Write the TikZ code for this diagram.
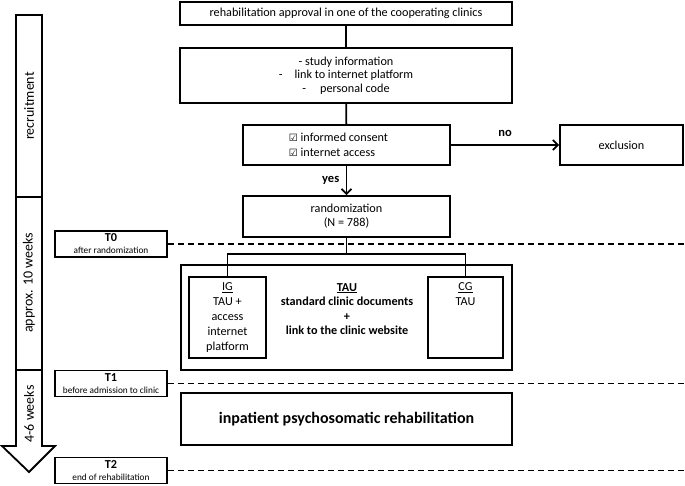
\documentclass[tikz,border=0pt]{standalone}
\usepackage{fontspec}
\setmainfont{Carlito}
\newfontfamily\symfont{DejaVu Sans}
\usetikzlibrary{arrows,arrows.meta,shapes,positioning}

\tikzset{
  box/.style={draw, line width=1.8pt, inner sep=0pt, align=center},
  tbox/.style={draw, line width=1.5pt, inner sep=0pt, minimum width=112, minimum height=26, align=center},
  timeline/.style={line width=1.3pt, dash pattern=on 6pt off 4pt},
  sidelabel/.style={rotate=90, font=\fontsize{14}{16}\selectfont},
}
\newcommand{\chk}{{\symfont\fontsize{10}{12}\selectfont\char"2611}}

\begin{document}
\begin{tikzpicture}[x=1pt,y=-1pt,shape=rectangle,>={Straight Barb[length=5pt,width=10pt]},
  font=\fontsize{12.2}{14}\selectfont]
\useasboundingbox (0,0) rectangle (685,486);

% left time bar
\draw[line width=1.8pt] (16,15) rectangle (42,197);
\draw[line width=1.8pt] (16,197) rectangle (42,370);
\draw[line width=1.8pt, line join=miter] (16,370) -- (16,446) -- (2,446) -- (29,472) -- (55,446)
  -- (42,446) -- (42,370);
\node (recruit) [sidelabel] at (29,106) {recruitment};
\node (tenweeks) [sidelabel] at (29,283) {approx. 10 weeks};
\node (sixweeks) [sidelabel] at (29,414) {4-6 weeks};

% time points
\node (tzero) [tbox] at (111,244) {\textbf{T0}\\[-2pt]{\fontsize{9.3}{10}\selectfont after randomization}};
\node (tone) [tbox] at (111,383.5) {\textbf{T1}\\[-2pt]{\fontsize{9.3}{10}\selectfont before admission to clinic}};
\node (ttwo) [tbox] at (111,470.5) {\textbf{T2}\\[-2pt]{\fontsize{9.3}{10}\selectfont end of rehabilitation}};
\coordinate (tzeroend) at (685,244);
\coordinate (toneend) at (685,383.5);
\coordinate (ttwoend) at (685,470.5);
\draw[timeline] (tzero) -- (tzeroend);
\draw[timeline] (tone) -- (toneend);
\draw[timeline] (ttwo) -- (ttwoend);

% flow
\node (approval) [box, minimum width=332, minimum height=23] at (346,13.5)
  {rehabilitation approval in one of the cooperating clinics};
\node (info) [box, minimum width=332, minimum height=55, font=\fontsize{12.2}{13.5}\selectfont] at (346,75.5)
  {- study information\\-\hspace{12pt}link to internet platform\\-\hspace{14pt}personal code};
\node (consent) [box, align=left, minimum width=207, minimum height=40, font=\fontsize{12.2}{15}\selectfont] at (346.5,145)
  {\chk\ informed consent\hspace*{16pt}\\\chk\ internet access};
\node (exclusion) [box, minimum width=123, minimum height=40] at (621.5,145) {exclusion};
\node (random) [box, minimum width=207, minimum height=41] at (346.5,216.5)
  {randomization\\(N = 788)};

\node (taubox) [box, minimum width=331, minimum height=105] at (346.5,317.5) {};
\node (ig) [box, minimum width=77, minimum height=81, font=\fontsize{12.2}{14.8}\selectfont] at (227.5,317.5)
  {\underline{IG}\\TAU +\\access\\internet\\platform};
\node (cg) [box, minimum width=75, minimum height=81] at (465.5,317.5) {};
\node (cgtext) [anchor=north, align=center, font=\fontsize{12.2}{14.8}\selectfont] at ([yshift=-3pt]cg.north) {\underline{CG}\\TAU};
\node (tautext) [align=center, font=\bfseries\fontsize{12.2}{14.5}\selectfont] at (347,309)
  {\underline{TAU}\\standard clinic documents\\+\\link to the clinic website};
\node (inpatient) [box, minimum width=331, minimum height=52, font=\bfseries\fontsize{16}{18}\selectfont]
  at (346.5,419) {inpatient psychosomatic rehabilitation};

\draw[line width=1.8pt] (approval) -- (info);
\draw[line width=1.8pt] (info) -- (consent);
\draw[->, line width=1.8pt] (consent) -- node [above=4pt, font=\bfseries\fontsize{12.5}{14}\selectfont] {no} (exclusion);
\draw[->, line width=1.8pt] (consent) -- node [left=3pt, font=\bfseries\fontsize{12.5}{14}\selectfont] {yes} (random);
\draw[line width=1.8pt] (random.south) -- ++(0,16) -| (ig.north);
\draw[line width=1.8pt] (random.south) -- ++(0,16) -| (cg.north);
\end{tikzpicture}
\end{document}
